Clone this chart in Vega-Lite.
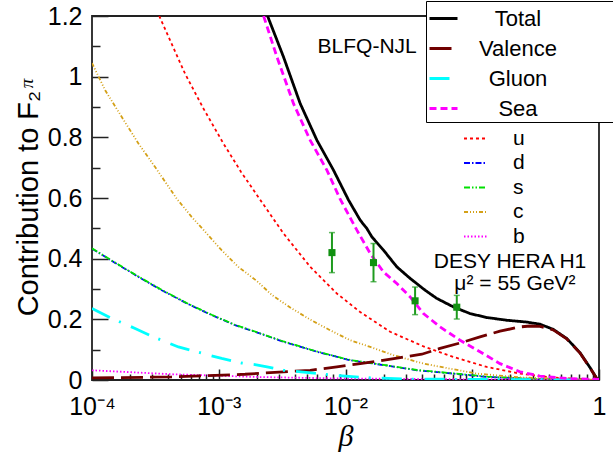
{
  "$schema": "https://vega.github.io/schema/vega-lite/v6.json",
  "width": 507,
  "height": 364,
  "autosize": {"type": "none"},
  "padding": {"left": 92, "top": 16, "right": 14, "bottom": 73},
  "background": "white",
  "config": {
    "font": "Liberation Sans",
    "view": {"stroke": "#222", "strokeWidth": 1.8},
    "axis": {"grid": false, "domainColor": "#222", "domainWidth": 2, "tickColor": "#222", "tickWidth": 1.5, "labelColor": "black", "titleColor": "black", "labelFontSize": 25, "titleFontWeight": "normal", "labelFont": "Liberation Sans", "labelFlush": false, "labelOverlap": false, "labelBound": false},
    "axisX": {"titleFontSize": 30, "titleFont": "Liberation Serif", "titleFontStyle": "italic", "titlePadding": 2}
  },
  "datasets": {
    "main": [
      {"s": "Total", "x": 0.002427, "y": 1.2}, {"s": "Total", "x": 0.003243, "y": 1.065}, {"s": "Total", "x": 0.004395, "y": 0.911}, {"s": "Total", "x": 0.005957, "y": 0.79}, {"s": "Total", "x": 0.008035, "y": 0.692}, {"s": "Total", "x": 0.01057, "y": 0.593}, {"s": "Total", "x": 0.01306, "y": 0.527}, {"s": "Total", "x": 0.01476, "y": 0.499}, {"s": "Total", "x": 0.01614, "y": 0.472}, {"s": "Total", "x": 0.01995, "y": 0.428}, {"s": "Total", "x": 0.02541, "y": 0.373}, {"s": "Total", "x": 0.03236, "y": 0.335}, {"s": "Total", "x": 0.04246, "y": 0.296}, {"s": "Total", "x": 0.05248, "y": 0.269}, {"s": "Total", "x": 0.07096, "y": 0.241}, {"s": "Total", "x": 0.09616, "y": 0.219}, {"s": "Total", "x": 0.13, "y": 0.206}, {"s": "Total", "x": 0.1871, "y": 0.197}, {"s": "Total", "x": 0.2685, "y": 0.191}, {"s": "Total", "x": 0.342, "y": 0.184}, {"s": "Total", "x": 0.4355, "y": 0.167}, {"s": "Total", "x": 0.5559, "y": 0.137}, {"s": "Total", "x": 0.7079, "y": 0.09}, {"s": "Total", "x": 0.8492, "y": 0.041}, {"s": "Total", "x": 0.9572, "y": 0.006}, {"s": "Total", "x": 1, "y": 0},
      {"s": "Valence", "x": 0.0001, "y": 0.007}, {"s": "Valence", "x": 0.0004256, "y": 0.01}, {"s": "Valence", "x": 0.001611, "y": 0.019}, {"s": "Valence", "x": 0.003243, "y": 0.027}, {"s": "Valence", "x": 0.005272, "y": 0.032}, {"s": "Valence", "x": 0.008551, "y": 0.043}, {"s": "Valence", "x": 0.01306, "y": 0.054}, {"s": "Valence", "x": 0.01875, "y": 0.063}, {"s": "Valence", "x": 0.02698, "y": 0.074}, {"s": "Valence", "x": 0.03999, "y": 0.085}, {"s": "Valence", "x": 0.05572, "y": 0.104}, {"s": "Valence", "x": 0.08017, "y": 0.122}, {"s": "Valence", "x": 0.1151, "y": 0.142}, {"s": "Valence", "x": 0.1656, "y": 0.161}, {"s": "Valence", "x": 0.2382, "y": 0.175}, {"s": "Valence", "x": 0.2851, "y": 0.178}, {"s": "Valence", "x": 0.342, "y": 0.177}, {"s": "Valence", "x": 0.4355, "y": 0.165}, {"s": "Valence", "x": 0.5559, "y": 0.136}, {"s": "Valence", "x": 0.7079, "y": 0.089}, {"s": "Valence", "x": 0.8492, "y": 0.04}, {"s": "Valence", "x": 0.9572, "y": 0.005}, {"s": "Valence", "x": 1, "y": 0},
      {"s": "Gluon", "x": 0.0001, "y": 0.236}, {"s": "Gluon", "x": 0.0001432, "y": 0.203}, {"s": "Gluon", "x": 0.0002188, "y": 0.17}, {"s": "Gluon", "x": 0.0003055, "y": 0.142}, {"s": "Gluon", "x": 0.0004808, "y": 0.109}, {"s": "Gluon", "x": 0.0006699, "y": 0.093}, {"s": "Gluon", "x": 0.001054, "y": 0.071}, {"s": "Gluon", "x": 0.001514, "y": 0.056}, {"s": "Gluon", "x": 0.001932, "y": 0.051}, {"s": "Gluon", "x": 0.002404, "y": 0.043}, {"s": "Gluon", "x": 0.003243, "y": 0.032}, {"s": "Gluon", "x": 0.005598, "y": 0.023}, {"s": "Gluon", "x": 0.008035, "y": 0.016}, {"s": "Gluon", "x": 0.01387, "y": 0.008}, {"s": "Gluon", "x": 0.03236, "y": 0.003}, {"s": "Gluon", "x": 0.1, "y": 0.002}, {"s": "Gluon", "x": 1, "y": 0},
      {"s": "Sea", "x": 0.002259, "y": 1.2}, {"s": "Sea", "x": 0.002877, "y": 1.065}, {"s": "Sea", "x": 0.00389, "y": 0.911}, {"s": "Sea", "x": 0.005272, "y": 0.79}, {"s": "Sea", "x": 0.007129, "y": 0.692}, {"s": "Sea", "x": 0.009078, "y": 0.596}, {"s": "Sea", "x": 0.0123, "y": 0.494}, {"s": "Sea", "x": 0.01567, "y": 0.417}, {"s": "Sea", "x": 0.01995, "y": 0.356}, {"s": "Sea", "x": 0.02541, "y": 0.318}, {"s": "Sea", "x": 0.03236, "y": 0.274}, {"s": "Sea", "x": 0.04121, "y": 0.219}, {"s": "Sea", "x": 0.05572, "y": 0.175}, {"s": "Sea", "x": 0.08017, "y": 0.131}, {"s": "Sea", "x": 0.1151, "y": 0.093}, {"s": "Sea", "x": 0.1656, "y": 0.054}, {"s": "Sea", "x": 0.2382, "y": 0.027}, {"s": "Sea", "x": 0.342, "y": 0.013}, {"s": "Sea", "x": 0.5559, "y": 0.005}, {"s": "Sea", "x": 1, "y": 0.002}
    ],
    "flav": [
      {"f": "u", "x": 0.000339, "y": 1.2}, {"f": "u", "x": 0.000542, "y": 1.01}, {"f": "u", "x": 0.000757, "y": 0.895}, {"f": "u", "x": 0.001087, "y": 0.78}, {"f": "u", "x": 0.0015, "y": 0.686}, {"f": "u", "x": 0.001991, "y": 0.611}, {"f": "u", "x": 0.003243, "y": 0.483}, {"f": "u", "x": 0.005272, "y": 0.373}, {"f": "u", "x": 0.008551, "y": 0.285}, {"f": "u", "x": 0.01306, "y": 0.224}, {"f": "u", "x": 0.02249, "y": 0.159}, {"f": "u", "x": 0.04121, "y": 0.111}, {"f": "u", "x": 0.071, "y": 0.076}, {"f": "u", "x": 0.13, "y": 0.043}, {"f": "u", "x": 0.2382, "y": 0.021}, {"f": "u", "x": 0.4355, "y": 0.008}, {"f": "u", "x": 1, "y": 0},
      {"f": "d", "x": 0.0001, "y": 0.433}, {"f": "d", "x": 0.0001524, "y": 0.386}, {"f": "d", "x": 0.0002323, "y": 0.34}, {"f": "d", "x": 0.0003548, "y": 0.296}, {"f": "d", "x": 0.0005754, "y": 0.25}, {"f": "d", "x": 0.000879, "y": 0.214}, {"f": "d", "x": 0.001343, "y": 0.181}, {"f": "d", "x": 0.001991, "y": 0.157}, {"f": "d", "x": 0.003243, "y": 0.126}, {"f": "d", "x": 0.005957, "y": 0.093}, {"f": "d", "x": 0.01089, "y": 0.065}, {"f": "d", "x": 0.01995, "y": 0.049}, {"f": "d", "x": 0.03656, "y": 0.032}, {"f": "d", "x": 0.07063, "y": 0.021}, {"f": "d", "x": 0.1306, "y": 0.01}, {"f": "d", "x": 0.316, "y": 0.003}, {"f": "d", "x": 1, "y": 0},
      {"f": "s", "x": 0.0001, "y": 0.434}, {"f": "s", "x": 0.0001524, "y": 0.387}, {"f": "s", "x": 0.0002323, "y": 0.341}, {"f": "s", "x": 0.0003548, "y": 0.297}, {"f": "s", "x": 0.0005754, "y": 0.251}, {"f": "s", "x": 0.000879, "y": 0.215}, {"f": "s", "x": 0.001343, "y": 0.182}, {"f": "s", "x": 0.001991, "y": 0.158}, {"f": "s", "x": 0.003243, "y": 0.127}, {"f": "s", "x": 0.005957, "y": 0.094}, {"f": "s", "x": 0.01089, "y": 0.066}, {"f": "s", "x": 0.01995, "y": 0.05}, {"f": "s", "x": 0.03656, "y": 0.033}, {"f": "s", "x": 0.07063, "y": 0.022}, {"f": "s", "x": 0.1306, "y": 0.011}, {"f": "s", "x": 0.316, "y": 0.003}, {"f": "s", "x": 1, "y": 0},
      {"f": "c", "x": 0.0001, "y": 1.045}, {"f": "c", "x": 0.0001271, "y": 0.955}, {"f": "c", "x": 0.0001718, "y": 0.867}, {"f": "c", "x": 0.0002323, "y": 0.78}, {"f": "c", "x": 0.0003148, "y": 0.702}, {"f": "c", "x": 0.0004656, "y": 0.598}, {"f": "c", "x": 0.0006109, "y": 0.538}, {"f": "c", "x": 0.0008035, "y": 0.483}, {"f": "c", "x": 0.001054, "y": 0.428}, {"f": "c", "x": 0.001426, "y": 0.373}, {"f": "c", "x": 0.001991, "y": 0.327}, {"f": "c", "x": 0.00263, "y": 0.28}, {"f": "c", "x": 0.003664, "y": 0.239}, {"f": "c", "x": 0.005272, "y": 0.199}, {"f": "c", "x": 0.007568, "y": 0.164}, {"f": "c", "x": 0.01089, "y": 0.131}, {"f": "c", "x": 0.01567, "y": 0.109}, {"f": "c", "x": 0.02388, "y": 0.082}, {"f": "c", "x": 0.04121, "y": 0.054}, {"f": "c", "x": 0.1084, "y": 0.021}, {"f": "c", "x": 0.25, "y": 0.008}, {"f": "c", "x": 1, "y": 0},
      {"f": "b", "x": 0.0001, "y": 0.032}, {"f": "b", "x": 0.0004256, "y": 0.019}, {"f": "b", "x": 0.001991, "y": 0.01}, {"f": "b", "x": 0.009078, "y": 0.005}, {"f": "b", "x": 0.1, "y": 0.002}, {"f": "b", "x": 1, "y": 0.001}
    ],
    "h1": [
      {"x": 0.00782, "y": 0.42, "e": 0.066},
      {"x": 0.01663, "y": 0.387, "e": 0.063},
      {"x": 0.0354, "y": 0.261, "e": 0.0455},
      {"x": 0.0755, "y": 0.24, "e": 0.039}
    ],
    "notes": [
      {"t": "BLFQ-NJL", "x": 0.01483, "y": 1.097},
      {"t": "DESY HERA H1", "x": 0.1986, "y": 0.39},
      {"t": "μ² = 55 GeV²", "x": 0.2173, "y": 0.316}
    ]
  },
  "encoding": {
    "x": {"field": "x", "type": "quantitative", "scale": {"type": "log", "domain": [0.0001, 1]}, "axis": null},
    "y": {"field": "y", "type": "quantitative", "scale": {"domain": [0, 1.2]}, "axis": null}
  },
  "layer": [
    {
      "data": {"name": "flav"},
      "mark": {"type": "line", "clip": true, "strokeWidth": 1.8},
      "encoding": {
        "x": {
          "field": "x", "type": "quantitative", "scale": {"type": "log", "domain": [0.0001, 1]},
          "axis": {
            "orient": "bottom",
            "title": "β",
            "values": [0.0001, 0.001, 0.01, 0.1, 1],
            "labelExpr": "datum.value == 0.0001 ? '10⁻⁴' : datum.value == 0.001 ? '10⁻³' : datum.value == 0.01 ? '10⁻²' : datum.value == 0.1 ? '10⁻¹' : '1'",
            "offset": -11, "tickSize": 11, "domain": false, "labelPadding": 14
          }
        },
        "y": {
          "field": "y", "type": "quantitative", "scale": {"domain": [0, 1.2]},
          "axis": {
            "orient": "left",
            "title": null,
            "values": [0, 0.2, 0.4, 0.6, 0.8, 1, 1.2],
            "format": "~g",
            "ticks": false, "domain": false, "labelPadding": 10,
            "grid": true, "gridDash": [16, 2000], "gridColor": "#222", "gridWidth": 1.5, "gridOpacity": 1
          }
        },
        "color": {
          "field": "f", "type": "nominal",
          "scale": {"domain": ["u", "d", "s", "c", "b"], "range": ["#ff0000", "#0000ff", "#00e000", "#d4a017", "#ff00ff"]},
          "legend": {"orient": "none", "legendX": 371, "legendY": 110, "title": null, "symbolType": "stroke", "symbolSize": 529, "symbolStrokeWidth": 1.8, "labelFontSize": 21, "labelOffset": 25, "rowPadding": 1.5, "padding": 0, "labelColor": "black"}
        },
        "strokeDash": {
          "field": "f", "type": "nominal",
          "scale": {"domain": ["u", "d", "s", "c", "b"], "range": [[3, 3], [6, 2, 1.5, 2], [6, 2, 1.5, 2, 1.5, 2], [4, 2, 1, 2, 1, 2, 1, 2], [1.5, 2]]},
          "legend": {"orient": "none", "legendX": 371, "legendY": 110, "title": null, "symbolType": "stroke", "symbolSize": 529, "symbolStrokeWidth": 1.8, "labelFontSize": 21, "labelOffset": 25, "rowPadding": 1.5, "padding": 0, "labelColor": "black"}
        }
      }
    },
    {
      "data": {"name": "main"},
      "mark": {"type": "line", "clip": true, "strokeWidth": 2.8},
      "encoding": {
        "x": {
          "field": "x", "type": "quantitative", "scale": {"type": "log", "domain": [0.0001, 1]},
          "axis": {
            "orient": "bottom",
            "title": null,
            "values": [0.0002, 0.0003, 0.0004, 0.0005, 0.0006, 0.0007, 0.0008, 0.0009, 0.002, 0.003, 0.004, 0.005, 0.006, 0.007, 0.008, 0.009, 0.02, 0.03, 0.04, 0.05, 0.06, 0.07, 0.08, 0.09, 0.2, 0.3, 0.4, 0.5, 0.6, 0.7, 0.8, 0.9],
            "labels": false,
            "offset": -6, "tickSize": 6, "domain": false
          }
        },
        "y": {
          "field": "y", "type": "quantitative", "scale": {"domain": [0, 1.2]},
          "axis": {
            "orient": "left",
            "title": null,
            "values": [0.1, 0.3, 0.5, 0.7, 0.9, 1.1],
            "labels": false, "ticks": false, "domain": false,
            "grid": true, "gridDash": [8, 2000], "gridColor": "#222", "gridWidth": 1.5, "gridOpacity": 1
          }
        },
        "color": {
          "field": "s", "type": "nominal",
          "scale": {"domain": ["Total", "Valence", "Gluon", "Sea"], "range": ["#000000", "#700000", "#00ffff", "#ff00ff"]},
          "legend": {"orient": "none", "legendX": 334, "legendY": -15, "title": "WWWW", "titleOrient": "right", "titleColor": "rgba(0,0,0,0)", "titleFontSize": 22, "titlePadding": 0, "strokeColor": "black", "fillColor": "white", "padding": 2, "symbolType": "stroke", "symbolSize": 784, "symbolStrokeWidth": 3, "labelFontSize": 22, "labelOffset": 59, "labelAlign": "center", "rowPadding": 3, "labelColor": "black", "labelLimit": 600}
        },
        "strokeDash": {
          "field": "s", "type": "nominal",
          "scale": {"domain": ["Total", "Valence", "Gluon", "Sea"], "range": [[1, 0], [22, 7], [20, 10, 2, 11], [7, 4]]},
          "legend": {"orient": "none", "legendX": 334, "legendY": -15, "title": "WWWW", "titleOrient": "right", "titleColor": "rgba(0,0,0,0)", "titleFontSize": 22, "titlePadding": 0, "strokeColor": "black", "fillColor": "white", "padding": 2, "symbolType": "stroke", "symbolSize": 784, "symbolStrokeWidth": 3, "labelFontSize": 22, "labelOffset": 59, "labelAlign": "center", "rowPadding": 3, "labelColor": "black", "labelLimit": 600}
        }
      }
    },
    {
      "data": {"name": "h1"},
      "mark": {"type": "errorbar", "color": "#1e9b1e", "ticks": {"size": 6, "thickness": 1.5, "color": "#1e9b1e"}, "rule": {"strokeWidth": 2, "color": "#1e9b1e"}},
      "encoding": {
        "yError": {"field": "e"}
      }
    },
    {
      "data": {"name": "h1"},
      "mark": {"type": "point", "shape": "square", "filled": true, "color": "#119111", "size": 50, "opacity": 1},
      "encoding": {
        "y": {
          "field": "y", "type": "quantitative", "scale": {"domain": [0, 1.2]},
          "axis": {
            "orient": "left",
            "title": "Contribution to F₂",
            "titleFontSize": 29, "titleX": -55, "titleY": 187, "titleBaseline": "alphabetic", "titleAlign": "center", "titleAngle": -90,
            "ticks": false, "labels": false, "domain": false
          }
        }
      }
    },
    {
      "data": {"name": "notes"},
      "mark": {"type": "text", "fontSize": 21, "font": "Liberation Sans", "align": "center", "baseline": "middle", "color": "black"},
      "encoding": {
        "y": {
          "field": "y", "type": "quantitative", "scale": {"domain": [0, 1.2]},
          "axis": {
            "orient": "left",
            "title": "π",
            "titleFont": "Liberation Serif", "titleFontStyle": "italic", "titleFontSize": 19,
            "titleX": -60, "titleY": 67, "titleBaseline": "alphabetic", "titleAlign": "center", "titleAngle": -90,
            "ticks": false, "labels": false, "domain": false
          }
        },
        "text": {"field": "t"}
      }
    }
  ],
  "resolve": {"scale": {"color": "independent", "strokeDash": "independent"}, "axis": {"x": "independent", "y": "independent"}}
}
